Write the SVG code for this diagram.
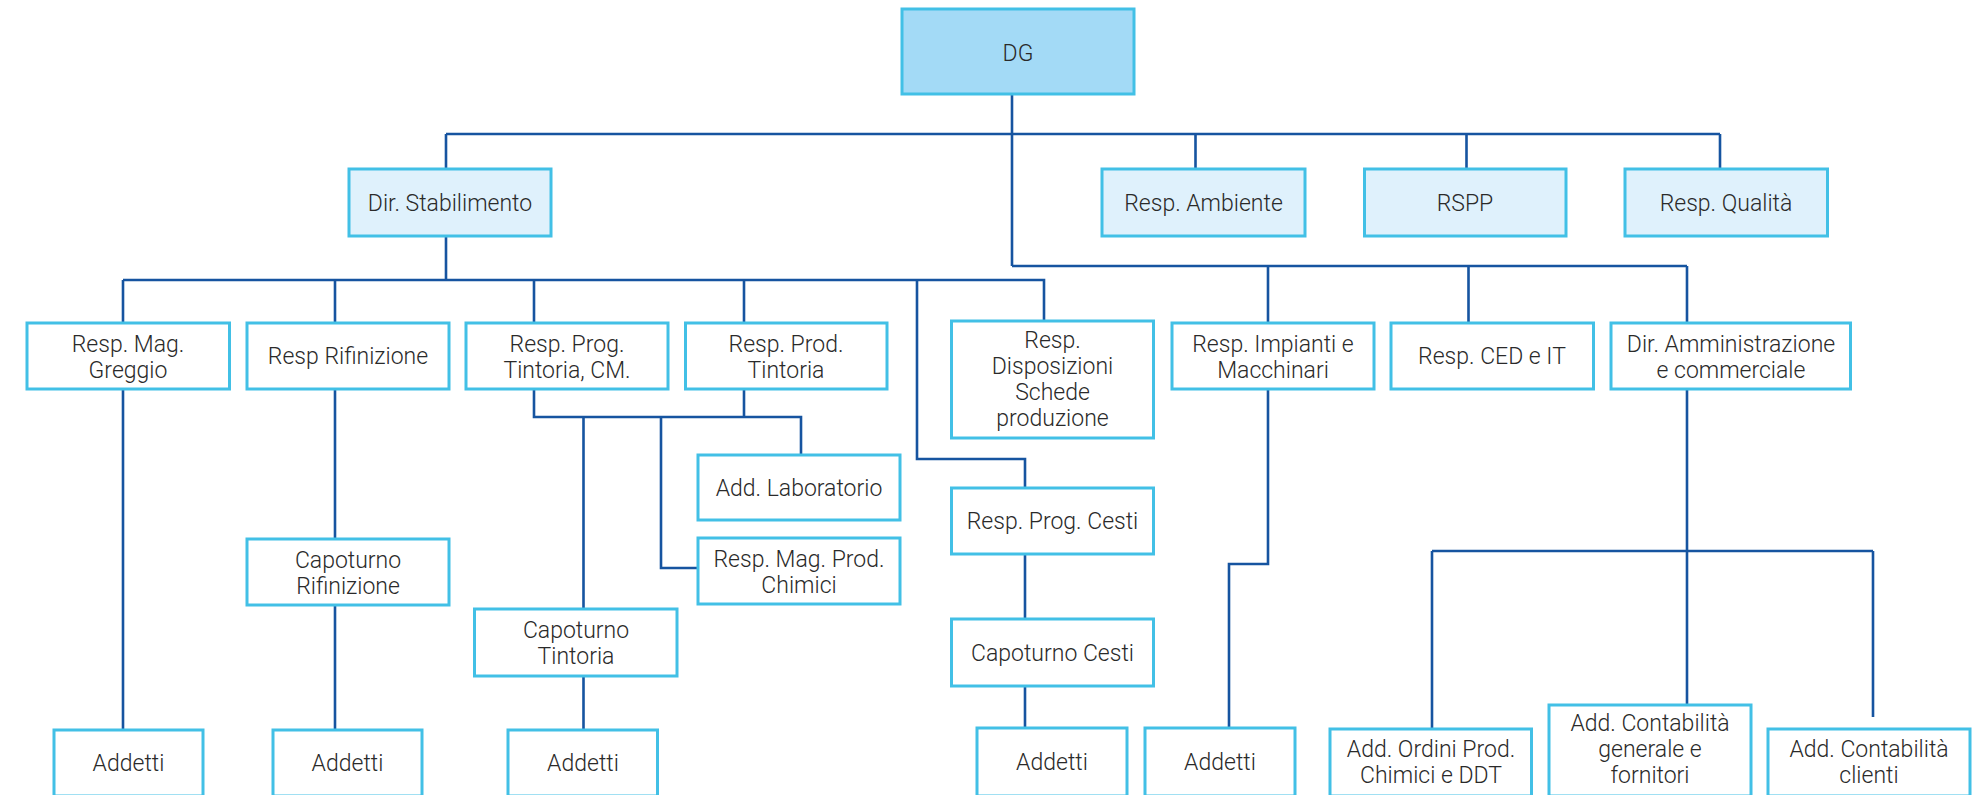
<svg xmlns="http://www.w3.org/2000/svg" width="1987" height="795" viewBox="0 0 1987 795">
<style>
.b{fill:#ffffff;stroke:#42c0e6;stroke-width:3}
.l1{fill:#dff1fc}
.top{fill:#a3daf6}
.c{fill:none;stroke:#1654a0;stroke-width:2.6}
text{font-family:Roboto,"Liberation Sans",sans-serif;font-weight:300;font-size:23px;fill:#2a2a2a;text-anchor:middle}
</style>
<rect width="1987" height="795" fill="#ffffff"/>
<g id="connectors">
<path class="c" d="M1012 94V266M446 134H1720M446 134V169M1195.5 134V169M1466.5 134V169M1720 134V169"/>
<path class="c" d="M1012 266H1687M1268 266V323M1468.5 266V323M1687 266V323"/>
<path class="c" d="M446 236V280M123 280H1044V321M123 280V323M335 280V323M534 280V323M744 280V323"/>
<path class="c" d="M917 280V459H1025V488M1025 554V619M1025 686V728"/>
<path class="c" d="M123 389V730M335 389V539M335 605V730"/>
<path class="c" d="M534 389V417H801V455M744 389V417M661 417V568H698M583.5 417V609M583.5 676V730"/>
<path class="c" d="M1268 389V564H1229V728"/>
<path class="c" d="M1687 389V705M1432 551H1873M1432 551V729M1873 551V717"/>
</g>
<g id="n-dg"><rect class="b top" x="902" y="9" width="232" height="85"/><text x="1018" y="61">DG</text></g>
<g id="n-dirstab"><rect class="b l1" x="349" y="169" width="202" height="67"/><text x="450" y="211">Dir. Stabilimento</text></g>
<g id="n-ambiente"><rect class="b l1" x="1102" y="169" width="203" height="67"/><text x="1203.5" y="211">Resp. Ambiente</text></g>
<g id="n-rspp"><rect class="b l1" x="1364.5" y="169" width="201.5" height="67"/><text x="1465" y="211">RSPP</text></g>
<g id="n-qualita"><rect class="b l1" x="1625" y="169" width="202.5" height="67"/><text x="1726" y="211">Resp. Qualità</text></g>
<g id="n-greggio"><rect class="b" x="27" y="323" width="202.5" height="66"/><text x="128" y="352">Resp. Mag.</text><text x="128" y="378">Greggio</text></g>
<g id="n-rifinizione"><rect class="b" x="247" y="323" width="202" height="66"/><text x="348" y="364">Resp Rifinizione</text></g>
<g id="n-progtintoria"><rect class="b" x="466" y="323" width="202" height="66"/><text x="567" y="352">Resp. Prog.</text><text x="567" y="378">Tintoria, CM.</text></g>
<g id="n-prodtintoria"><rect class="b" x="685.5" y="323" width="201.5" height="66"/><text x="786" y="352">Resp. Prod.</text><text x="786" y="378">Tintoria</text></g>
<g id="n-disposizioni"><rect class="b" x="951.5" y="321" width="202" height="117"/><text x="1052.5" y="348">Resp.</text><text x="1052.5" y="374">Disposizioni</text><text x="1052.5" y="400">Schede</text><text x="1052.5" y="426">produzione</text></g>
<g id="n-impianti"><rect class="b" x="1172" y="323" width="202" height="66"/><text x="1273" y="352">Resp. Impianti e</text><text x="1273" y="378">Macchinari</text></g>
<g id="n-ced"><rect class="b" x="1391" y="323" width="202.5" height="66"/><text x="1492" y="364">Resp. CED e IT</text></g>
<g id="n-amministrazione"><rect class="b" x="1611" y="323" width="239.5" height="66"/><text x="1731" y="352">Dir. Amministrazione</text><text x="1731" y="378">e commerciale</text></g>
<g id="n-laboratorio"><rect class="b" x="698" y="455" width="202" height="65"/><text x="799" y="496">Add. Laboratorio</text></g>
<g id="n-chimici"><rect class="b" x="698" y="538" width="202" height="66"/><text x="799" y="567">Resp. Mag. Prod.</text><text x="799" y="593">Chimici</text></g>
<g id="n-caporifinizione"><rect class="b" x="247" y="539" width="202" height="66"/><text x="348" y="568">Capoturno</text><text x="348" y="594">Rifinizione</text></g>
<g id="n-capotintoria"><rect class="b" x="474.5" y="609" width="202.5" height="67"/><text x="576" y="638">Capoturno</text><text x="576" y="664">Tintoria</text></g>
<g id="n-progcesti"><rect class="b" x="951.5" y="488" width="202" height="66"/><text x="1052.5" y="529">Resp. Prog. Cesti</text></g>
<g id="n-capocesti"><rect class="b" x="951.5" y="619" width="202" height="67"/><text x="1052.5" y="661">Capoturno Cesti</text></g>
<g id="n-addetti1"><rect class="b" x="54" y="730" width="149" height="66"/><text x="128.5" y="771">Addetti</text></g>
<g id="n-addetti2"><rect class="b" x="273" y="730" width="149" height="66"/><text x="347.5" y="771">Addetti</text></g>
<g id="n-addetti3"><rect class="b" x="508" y="730" width="149.5" height="66"/><text x="583" y="771">Addetti</text></g>
<g id="n-addetti4"><rect class="b" x="977" y="728" width="150" height="68"/><text x="1052" y="770">Addetti</text></g>
<g id="n-addetti5"><rect class="b" x="1145" y="728" width="150" height="68"/><text x="1220" y="770">Addetti</text></g>
<g id="n-ordini"><rect class="b" x="1330" y="729" width="201.5" height="67"/><text x="1431" y="757">Add. Ordini Prod.</text><text x="1431" y="783">Chimici e DDT</text></g>
<g id="n-contgenerale"><rect class="b" x="1549" y="705" width="202" height="91"/><text x="1650" y="731">Add. Contabilità</text><text x="1650" y="757">generale e</text><text x="1650" y="783">fornitori</text></g>
<g id="n-contclienti"><rect class="b" x="1768" y="729" width="202" height="67"/><text x="1869" y="757">Add. Contabilità</text><text x="1869" y="783">clienti</text></g>
</svg>
